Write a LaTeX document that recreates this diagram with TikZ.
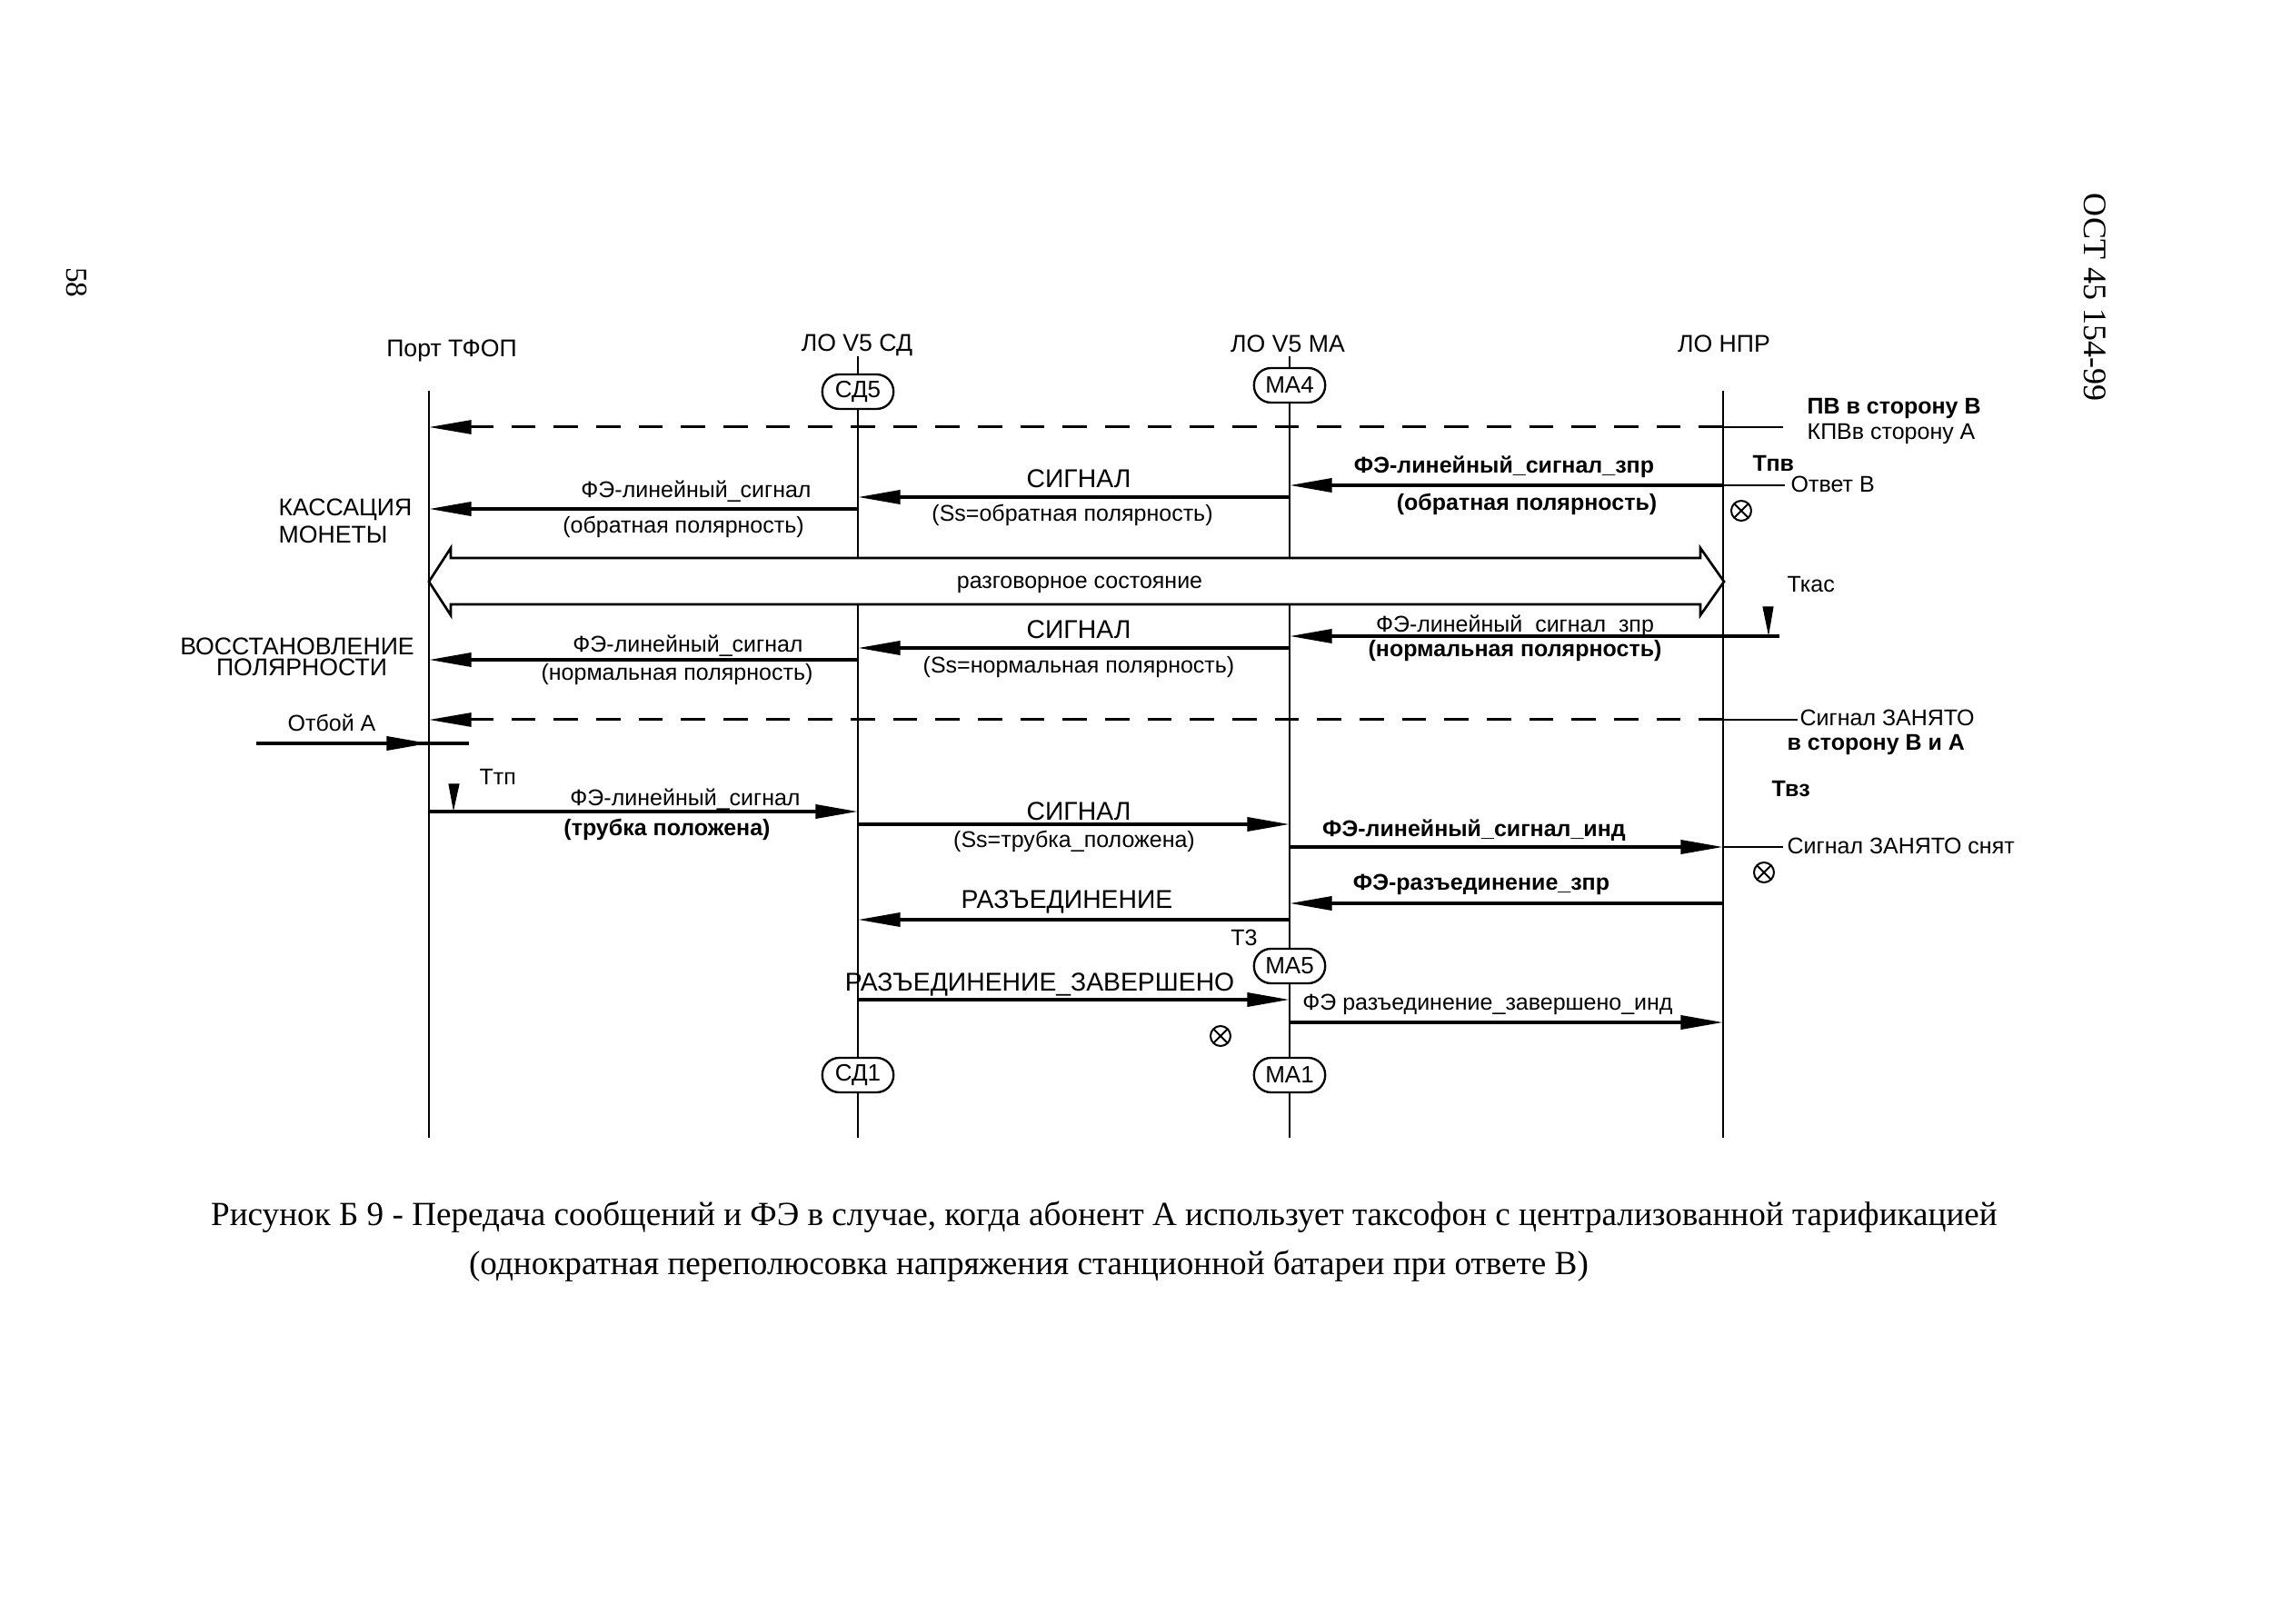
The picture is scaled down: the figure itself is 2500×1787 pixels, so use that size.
\documentclass[tikz,border=0pt]{standalone}
\usepackage{fontspec}
\setmainfont{Liberation Sans}
\newfontfamily\serifcap{Liberation Serif}
\usetikzlibrary{arrows.meta}
\newcommand\mkrow[2]{%
  \coordinate (T#1) at (472,#2);
  \coordinate (S#1) at (944,#2);
  \coordinate (M#1) at (1419,#2);
  \coordinate (N#1) at (1896,#2);}
\begin{document}
\begin{tikzpicture}[x=0.3pt,y=-0.3pt,
  lbl/.style={inner sep=0pt, font=\fontsize{7.5}{9}\selectfont},
  blbl/.style={lbl, font=\fontsize{7.5}{9}\selectfont\bfseries},
  hdr/.style={inner sep=0pt, font=\fontsize{8}{10}\selectfont},
  life/.style={line width=0.6pt},
  msg/.style={line width=1.1pt, -{Triangle[length=14pt,width=4.5pt]}},
  dmsg/.style={msg, line width=0.9pt, dash pattern=on 8pt off 6pt},
  stub/.style={line width=0.8pt},
  stbox/.style={draw, fill=white, rounded corners=5.6pt, minimum width=23.5pt,
    minimum height=11.4pt, inner sep=0pt, line width=0.7pt,
    font=\fontsize{7.8}{9}\selectfont},
  xmark/.style={line width=0.6pt},
  timer/.style={fill=black, draw=black, line width=0.3pt}
]
\useasboundingbox (0,0) rectangle (2500,1787);
\fill[white] (0,0) rectangle (2500,1787);

% headers
\node[hdr] (h1) at (497,386) {Порт ТФОП};
\node[hdr] (h2) at (943,380) {ЛО V5 СД};
\node[hdr] (h3) at (1417,378) {ЛО V5 МА};
\node[hdr] (h4) at (1897,378) {ЛО НПР};

% lifeline ends
\coordinate (Ttop) at (472,430);  \coordinate (Tbot) at (472,1252);
\coordinate (Stop) at (944,392);  \coordinate (Sbot) at (944,1252);
\coordinate (Mtop) at (1419,392); \coordinate (Mbot) at (1419,1252);
\coordinate (Ntop) at (1896,430); \coordinate (Nbot) at (1896,1252);
\draw[life] (Ttop) -- (Tbot);
\draw[life] (Stop) -- (Sbot);
\draw[life] (Mtop) -- (Mbot);
\draw[life] (Ntop) -- (Nbot);

% state boxes
\node[stbox] (sd5) at (944,431) {СД5};
\node[stbox] (ma4) at (1419,424) {МА4};
\node[stbox] (ma5) at (1419,1063) {МА5};
\node[stbox] (sd1) at (944,1183) {СД1};
\node[stbox] (ma1) at (1419,1183) {МА1};

% rows
\mkrow{1}{470}
\mkrow{2}{534}
\mkrow{3}{547}
\mkrow{4}{560}
\mkrow{6}{713}
\mkrow{7}{726}
\mkrow{8}{792}
\mkrow{10}{893}
\mkrow{11}{907}
\mkrow{12}{932}
\mkrow{13}{994}
\mkrow{14}{1012}
\mkrow{15}{1100}
\mkrow{16}{1125}

% row 1: dashed
\draw[dmsg] (N1) -- (T1);
\coordinate (st1) at (1962,470);
\draw[stub] (N1) -- (st1);
\node[blbl, anchor=west] (pv1) at (1988,450) {ПВ в сторону В};
\node[lbl, anchor=west] (pv2) at (1988,477) {КПВв сторону А};

% row 2
\node[blbl, anchor=west] (tpv) at (1928,510) {Тпв};
\coordinate (st2) at (1964,534);
\draw[stub] (N2) -- (st2);
\node[lbl, anchor=west] (otv) at (1970,533) {Ответ В};
\draw[msg] (N2) -- (M2);
\node[blbl] (l2a) at (1655,514) {ФЭ-линейный\_сигнал\_зпр};
\node[blbl] (l2b) at (1680,555) {(обратная полярность)};
\coordinate (x1) at (1916,562);
\draw[xmark] (x1) circle[radius=3.3pt];
\draw[xmark] ([shift={(-7.8,-7.8)}]x1) -- ([shift={(7.8,7.8)}]x1);
\draw[xmark] ([shift={(-7.8,7.8)}]x1) -- ([shift={(7.8,-7.8)}]x1);

% row 3
\draw[msg] (M3) -- (S3);
\node[lbl, font=\fontsize{8.5}{10}\selectfont] (l3a) at (1187,527) {СИГНАЛ};
\node[lbl] (l3b) at (1180,567) {(Ss=обратная полярность)};

% row 4
\draw[msg] (S4) -- (T4);
\node[lbl] (l4a) at (766,541) {ФЭ-линейный\_сигнал};
\node[lbl] (l4b) at (752,580) {(обратная полярность)};
\node[lbl, anchor=west, font=\fontsize{8}{10}\selectfont] (kas1) at (306,561) {КАССАЦИЯ};
\node[lbl, anchor=west, font=\fontsize{8}{10}\selectfont] (kas2) at (306,588) {МОНЕТЫ};

% talk state double arrow
\draw[line width=0.8pt, fill=white]
  (496,603) -- (472,640) -- (496,677) -- (496,665) -- (1871,665) -- (1871,677)
  -- (1897,640) -- (1871,603) -- (1871,614) -- (496,614) -- cycle;
\node[lbl] (talk) at (1188,643) {разговорное состояние};
\node[lbl, anchor=west] (tkas) at (1966,643) {Ткас};

% row 5
\draw[timer] (1940,668) -- (1951,668) -- (1946,697) -- cycle;
\coordinate (k5) at (1958,700);
\coordinate (M5) at (1419,700);
\draw[msg] (k5) -- (M5);
\node[lbl] (l5a) at (1667,689) {ФЭ-линейный\_сигнал\_зпр};
\node[blbl] (l5b) at (1667,716) {(нормальная полярность)};

% row 6
\draw[msg] (M6) -- (S6);
\node[lbl, font=\fontsize{8.5}{10}\selectfont] (l6a) at (1187,693) {СИГНАЛ};
\node[lbl] (l6b) at (1187,734) {(Ss=нормальная полярность)};

% row 7
\draw[msg] (S7) -- (T7);
\node[lbl] (l7a) at (757,711) {ФЭ-линейный\_сигнал};
\node[lbl] (l7b) at (745,742) {(нормальная полярность)};
\node[lbl, font=\fontsize{8}{10}\selectfont] (vos1) at (327,711) {ВОССТАНОВЛЕНИЕ};
\node[lbl, font=\fontsize{8}{10}\selectfont] (vos2) at (332,734) {ПОЛЯРНОСТИ};

% row 8: dashed
\draw[dmsg] (N8) -- (T8);
\coordinate (st8) at (1978,792);
\draw[stub] (N8) -- (st8);
\node[lbl, anchor=west] (zan1) at (1980,790) {Сигнал ЗАНЯТО};
\node[blbl, anchor=west] (zan2) at (1966,819) {в сторону В и А};

% row 9: Otboj A
\node[lbl] (otb) at (365,795) {Отбой А};
\coordinate (ob0) at (282,818);
\coordinate (ob1) at (516,818);
\coordinate (T9) at (472,818);
\draw[stub, line width=1.1pt] (ob0) -- (ob1);
\draw[msg] (ob0) -- (T9);

% row 10
\node[lbl, anchor=west] (ttp) at (527,855) {Ттп};
\draw[timer] (494,863) -- (505,863) -- (499,890) -- cycle;
\draw[msg] (T10) -- (S10);
\node[lbl] (l10a) at (754,880) {ФЭ-линейный\_сигнал};
\node[blbl] (l10b) at (734,913) {(трубка положена)};

% row 11
\node[blbl, anchor=west] (tvz) at (1949,868) {Твз};
\draw[msg] (S11) -- (M11);
\node[lbl, font=\fontsize{8.5}{10}\selectfont] (l11a) at (1187,893) {СИГНАЛ};
\node[lbl] (l11b) at (1182,926) {(Ss=трубка\_положена)};

% row 12
\draw[msg] (M12) -- (N12);
\coordinate (st12) at (1962,932);
\draw[stub] (N12) -- (st12);
\node[blbl] (l12a) at (1622,914) {ФЭ-линейный\_сигнал\_инд};
\node[lbl, anchor=west] (snjat) at (1966,931) {Сигнал ЗАНЯТО снят};
\coordinate (x2) at (1941,960);
\draw[xmark] (x2) circle[radius=3.3pt];
\draw[xmark] ([shift={(-7.8,-7.8)}]x2) -- ([shift={(7.8,7.8)}]x2);
\draw[xmark] ([shift={(-7.8,7.8)}]x2) -- ([shift={(7.8,-7.8)}]x2);

% row 13
\draw[msg] (N13) -- (M13);
\node[blbl] (l13a) at (1630,973) {ФЭ-разъединение\_зпр};

% row 14
\draw[msg] (M14) -- (S14);
\node[lbl, font=\fontsize{8.5}{10}\selectfont] (l14a) at (1174,992) {РАЗЪЕДИНЕНИЕ};
\node[lbl] (t3) at (1369,1032) {Т3};

% row 15
\draw[msg] (S15) -- (M15);
\node[lbl, font=\fontsize{8.5}{10}\selectfont] (l15a) at (1144,1083) {РАЗЪЕДИНЕНИЕ\_ЗАВЕРШЕНО};

% row 16
\draw[msg] (M16) -- (N16);
\node[lbl] (l16a) at (1637,1105) {ФЭ разъединение\_завершено\_инд};
\coordinate (x3) at (1343,1140);
\draw[xmark] (x3) circle[radius=3.3pt];
\draw[xmark] ([shift={(-7.8,-7.8)}]x3) -- ([shift={(7.8,7.8)}]x3);
\draw[xmark] ([shift={(-7.8,7.8)}]x3) -- ([shift={(7.8,-7.8)}]x3);

% caption
\node[inner sep=0pt, font=\serifcap\fontsize{11.15}{13}\selectfont] (cap1) at (1215,1339)
  {Рисунок Б 9 - Передача сообщений и ФЭ в случае, когда абонент А использует таксофон с централизованной тарификацией};
\node[inner sep=0pt, font=\serifcap\fontsize{11.15}{13}\selectfont] (cap2) at (1132,1393)
  {(однократная переполюсовка напряжения станционной батареи при ответе В)};

% margin texts
\node[inner sep=0pt, rotate=-90, font=\serifcap\fontsize{10.8}{13}\selectfont] (ost) at (2305,327) {ОСТ 45 154-99};
\node[inner sep=0pt, rotate=-90, font=\serifcap\fontsize{10}{12}\selectfont] (pg) at (84,311) {58};
\end{tikzpicture}
\end{document}
